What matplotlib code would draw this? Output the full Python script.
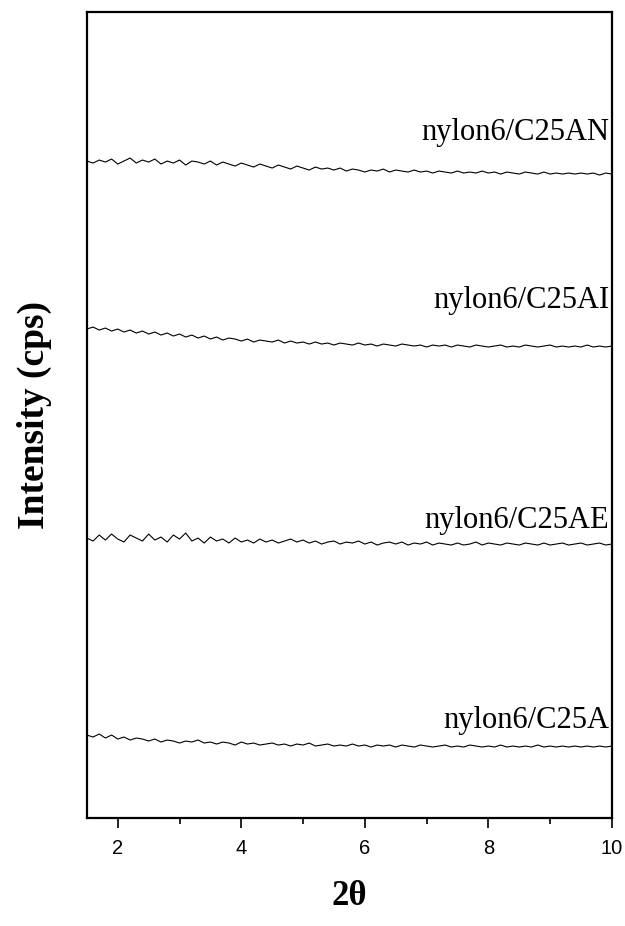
import numpy as np
import matplotlib.pyplot as plt
from matplotlib.ticker import MultipleLocator

# 2theta grid, 0.1 deg steps from 1.5 to 10.0
two_theta = np.round(np.arange(1.5, 10.01, 0.1), 2)

# intensities (arbitrary cps, stacked)
c25an = [657, 655, 658, 656, 659, 654, 657, 660, 655, 658,
         656, 659, 654, 657, 655, 658, 653, 657, 656, 654,
         657, 653, 656, 654, 652, 655, 653, 651, 654, 652,
         650, 653, 651, 649, 652, 650, 648, 651, 649, 650,
         648, 650, 647, 649, 648, 646, 648, 647, 649, 646,
         648, 647, 646, 648, 646, 647, 645, 647, 646, 645,
         647, 645, 646, 645, 647, 645, 646, 644, 646, 645,
         644, 646, 645, 644, 646, 644, 645, 644, 645, 644,
         645, 644, 645, 643, 645, 644]
c25ai = [489, 491, 488, 490, 487, 489, 486, 488, 485, 487,
         484, 486, 483, 485, 482, 484, 481, 483, 480, 482,
         479, 481, 478, 480, 479, 477, 479, 476, 478, 477,
         476, 478, 475, 477, 475, 476, 474, 476, 474, 475,
         473, 475, 474, 473, 475, 473, 474, 472, 474, 473,
         472, 474, 473, 472, 473, 471, 473, 472, 473, 471,
         473, 472, 471, 473, 472, 471, 472, 473, 471, 472,
         471, 473, 472, 471, 472, 473, 471, 472, 471, 472,
         471, 473, 471, 472, 471, 472]
c25ae = [280, 277, 283, 278, 284, 279, 276, 283, 280, 277,
         284, 278, 281, 276, 283, 279, 285, 277, 280, 275,
         281, 277, 279, 275, 280, 276, 278, 275, 279, 276,
         278, 275, 277, 279, 276, 278, 275, 277, 274, 276,
         277, 274, 276, 275, 277, 274, 276, 273, 275, 276,
         274, 276, 273, 275, 274, 276, 273, 275, 274, 273,
         275, 273, 274, 276, 273, 275, 274, 273, 275, 274,
         273, 275, 274, 273, 275, 273, 274, 275, 273, 274,
         275, 273, 274, 275, 273, 274]
c25a = [83, 81, 84, 80, 83, 79, 81, 78, 80, 79,
        77, 79, 76, 78, 77, 75, 77, 76, 78, 75,
        76, 74, 76, 75, 73, 76, 74, 75, 73, 74,
        75, 73, 74, 72, 74, 73, 75, 72, 73, 74,
        72, 73, 72, 74, 72, 73, 71, 73, 72, 73,
        71, 73, 72, 71, 73, 72, 71, 72, 73, 71,
        72, 71, 73, 72, 71, 72, 71, 73, 71, 72,
        71, 72, 71, 73, 71, 72, 71, 72, 71, 72,
        71, 72, 71, 72, 71, 72]

series = [c25an, c25ai, c25ae, c25a]
labels = ['nylon6/C25AN', 'nylon6/C25AI', 'nylon6/C25AE', 'nylon6/C25A']
label_y = [686, 518, 298, 98]

fig = plt.figure(figsize=(6.25, 9.26), dpi=100)
ax = fig.add_axes([0.139, 0.1166, 0.84, 0.8704])

for ys, lab, ly in zip(series, labels, label_y):
    ax.plot(two_theta, ys, color='black', lw=0.8)
    ax.text(9.96, ly, lab, ha='right', va='center',
            family='Liberation Serif', fontsize=22)

ax.set_xlim(1.5, 10)
ax.set_ylim(0, 806)
ax.set_yticks([])
ax.xaxis.set_major_locator(MultipleLocator(2))
ax.xaxis.set_minor_locator(MultipleLocator(1))
ax.tick_params(axis='x', which='major', direction='out', length=7, width=1.2,
               labelsize=14.5, pad=8)
ax.tick_params(axis='x', which='minor', direction='out', length=4, width=1.2)
for lbl in ax.get_xticklabels():
    lbl.set_family('Liberation Sans')
for sp in ax.spines.values():
    sp.set_linewidth(1.6)

ax.set_ylabel('Intensity (cps)', family='Liberation Serif', fontweight='bold',
              fontsize=27, labelpad=25)
ax.set_xlabel('2θ', family='Liberation Serif', fontweight='bold',
              fontsize=25, labelpad=16)

fig.savefig('out.png', dpi=100)
